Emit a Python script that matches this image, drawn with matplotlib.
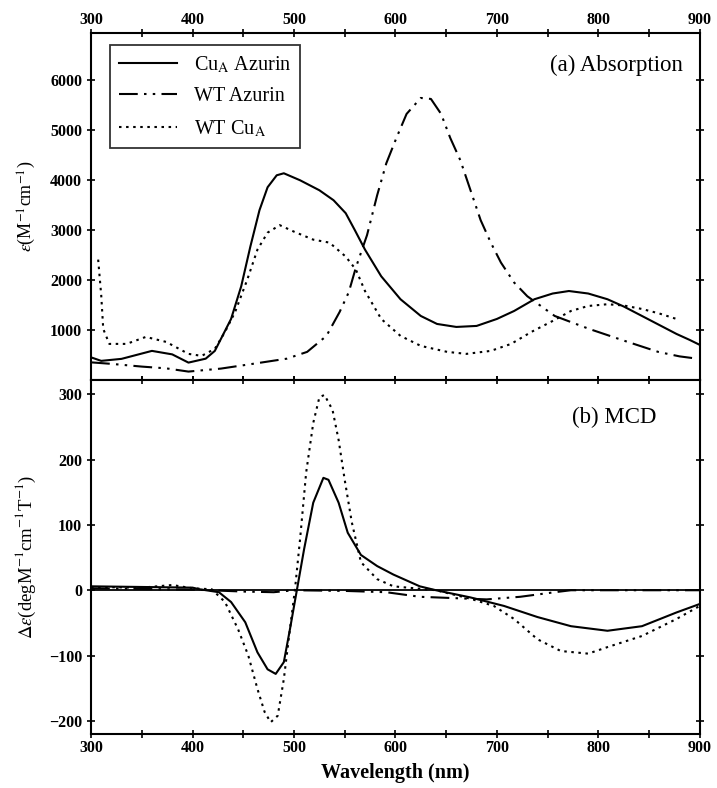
import numpy as np
import matplotlib
matplotlib.use('Agg')
import matplotlib.pyplot as plt
from matplotlib.ticker import MultipleLocator

plt.rcParams['font.family'] = ['Liberation Serif', 'DejaVu Serif']
plt.rcParams['mathtext.fontset'] = 'stix'

#%% data
# (a) absorption, M^-1 cm^-1
abs_cua_x = [300, 310, 330, 360, 380, 396, 413, 422, 428, 438, 448, 457, 466, 474, 483,
             490, 506, 525, 539, 551, 560, 570, 586, 605, 625, 641, 660, 680, 700, 717,
             737, 755, 771, 790, 809, 825, 843, 860, 877, 890, 900]
abs_cua_y = [450, 380, 420, 580, 510, 345, 424, 580, 820, 1220, 1875, 2670, 3400, 3860, 4100,
             4140, 4000, 3800, 3600, 3340, 3000, 2610, 2075, 1615, 1280, 1120, 1060, 1080, 1220, 1380,
             1615, 1730, 1780, 1730, 1615, 1470, 1280, 1100, 920, 800, 700]

abs_wtaz_x = [300, 320, 350, 374, 396, 428, 461, 493, 513, 532, 545, 554, 561, 572, 582,
              591, 601, 611, 625, 635, 645, 654, 664, 674, 684, 694, 704, 717, 730, 757,
              791, 826, 859, 880, 897]
abs_wtaz_y = [350, 320, 265, 230, 165, 225, 325, 424, 560, 880, 1360, 1755, 2250, 2900, 3700,
              4340, 4850, 5330, 5650, 5630, 5330, 4850, 4400, 3800, 3200, 2750, 2350, 1950, 1675, 1280,
              1020, 780, 560, 470, 425]

abs_wtcua_x = [307, 310, 312, 318, 335, 354, 374, 396, 409, 422, 432, 442, 454, 464, 474,
               486, 500, 519, 535, 551, 561, 570, 586, 605, 625, 651, 670, 694, 714, 734,
               755, 773, 790, 809, 825, 843, 860, 877, 880]
abs_wtcua_y = [2410, 1700, 1020, 720, 720, 860, 760, 520, 480, 620, 960, 1360, 2010, 2610, 2950,
               3100, 2970, 2810, 2750, 2470, 2210, 1780, 1220, 880, 680, 560, 520, 580, 720, 960,
               1180, 1380, 1480, 1515, 1490, 1420, 1330, 1220, 1200]

# (b) MCD, deg M^-1 cm^-1 T^-1
mcd_cua_x = [300, 350, 400, 407, 426, 438, 452, 464, 474, 482, 490, 496, 503, 510, 519,
             529, 534, 544, 553, 566, 582, 598, 624, 640, 674, 707, 740, 773, 809, 843,
             877, 900]
mcd_cua_y = [6, 5, 4, 1.5, -3, -18, -49, -95, -121, -128, -110, -60, 1.5, 63, 134,
             172, 169, 134, 88, 54, 37, 24, 6, 0, -11, -24, -41, -55, -62, -55,
             -34, -21]

mcd_wtaz_x = [300, 400, 450, 480, 500, 550, 591, 624, 657, 690, 723, 757, 773, 800, 900]
mcd_wtaz_y = [3, 1, -2, -3, 0, -1, -3, -10, -12, -14, -10, -3, 0, 0, 0]

mcd_wtcua_x = [300, 350, 380, 400, 419, 432, 445, 455, 464, 471, 477, 484, 490, 496, 501,
               506, 512, 519, 525, 530, 538, 544, 550, 557, 566, 582, 598, 640, 674, 697,
               717, 740, 763, 790, 809, 843, 877, 900]
mcd_wtcua_y = [5, 4, 8, 3, 1.5, -18, -60, -100, -151, -186, -202, -192, -136, -60, 1.5,
               78, 180, 256, 295, 299, 276, 230, 169, 104, 43, 17, 6, 0, -13, -24,
               -44, -75, -93, -97, -87, -70, -44, -24]

names = ['Cu$_\\mathrm{A}$ Azurin', 'WT Azurin', 'WT Cu$_\\mathrm{A}$']

#%% styles
ls_solid = '-'
ls_dashdotdot = (0, (9, 3, 1.2, 3, 1.2, 3))
ls_dot = (0, (1.2, 2.2))
lw = 1.5

fig = plt.figure(figsize=(7.17, 7.88), dpi=100)
ax1 = fig.add_axes([0.127, 0.518, 0.849, 0.440])
ax2 = fig.add_axes([0.127, 0.0685, 0.849, 0.4495])

ax1.plot(abs_cua_x, abs_cua_y, color='black', ls=ls_solid, lw=lw, label=names[0])
ax1.plot(abs_wtaz_x, abs_wtaz_y, color='black', ls=ls_dashdotdot, lw=lw, label=names[1])
ax1.plot(abs_wtcua_x, abs_wtcua_y, color='black', ls=ls_dot, lw=lw, label=names[2])

ax2.axhline(0, color='black', lw=1.3)
ax2.plot(mcd_cua_x, mcd_cua_y, color='black', ls=ls_solid, lw=lw)
ax2.plot(mcd_wtaz_x, mcd_wtaz_y, color='black', ls=ls_dashdotdot, lw=lw)
ax2.plot(mcd_wtcua_x, mcd_wtcua_y, color='black', ls=ls_dot, lw=lw)

ax1.set_ylim(0, 6950)
ax1.set_yticks([1000, 2000, 3000, 4000, 5000, 6000])
ax1.tick_params(labelbottom=False, labeltop=True)

ax2.set_ylim(-220, 322)
ax2.set_yticks([-200, -100, 0, 100, 200, 300])

for ax in (ax1, ax2):
    ax.set_xlim(300, 900)
    ax.xaxis.set_major_locator(MultipleLocator(100))
    ax.xaxis.set_minor_locator(MultipleLocator(50))
    ax.tick_params(which='both', direction='inout', top=True, right=True,
                   length=6, width=1.2, labelsize=11.5)
    ax.tick_params(axis='x', pad=1)
    for s in ax.spines.values():
        s.set_linewidth(1.5)
    for lab in ax.get_xticklabels() + ax.get_yticklabels():
        lab.set_fontweight('bold')

ax1.set_ylabel('$\\epsilon$(M$^{-1}$cm$^{-1}$)', fontsize=13)
ax2.set_ylabel('$\\Delta\\epsilon$(degM$^{-1}$cm$^{-1}$T$^{-1}$)', fontsize=13.5)
ax1.yaxis.set_label_coords(-0.087, 0.5)
ax2.yaxis.set_label_coords(-0.087, 0.5)
ax2.set_xlabel('Wavelength (nm)', fontsize=14.5, fontweight='bold', labelpad=5)

ax1.text(0.972, 0.908, '(a) Absorption', transform=ax1.transAxes,
         ha='right', va='center', fontsize=16.5)
ax2.text(0.929, 0.895, '(b) MCD', transform=ax2.transAxes,
         ha='right', va='center', fontsize=16.5)

leg = ax1.legend(loc='upper left', bbox_to_anchor=(0.031, 0.965), fontsize=14.5,
                 handlelength=2.9, frameon=True, fancybox=False, edgecolor='black',
                 borderpad=0.45, labelspacing=0.6, borderaxespad=0)
leg.get_frame().set_linewidth(1.3)

fig.savefig('out.png', dpi=100)
